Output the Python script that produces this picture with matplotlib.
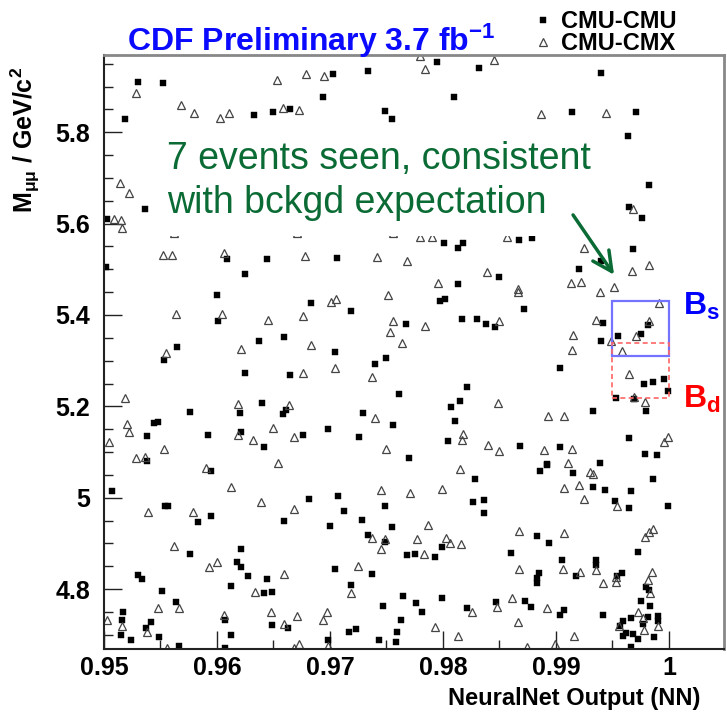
import matplotlib
matplotlib.use("Agg")
import matplotlib.pyplot as plt
from matplotlib.patches import Rectangle
from matplotlib.ticker import MultipleLocator, FuncFormatter

# CMU-CMU events (NN output, dimuon mass in GeV/c^2)
cmu_cmu_nn = [
    0.9530, 0.9552, 0.9633, 0.9650, 0.9665, 0.9519, 0.9536, 0.9503, 0.9795, 0.9832,
    0.9703, 0.9734, 0.9694, 0.9810, 0.9749, 0.9755, 0.9801, 0.9818, 0.9940, 0.9914,
    0.9971, 0.9964, 0.9982, 0.9965, 0.9976, 0.9867, 0.9879, 0.9609, 0.9644, 0.9502,
    0.9625, 0.9600, 0.9601, 0.9637, 0.9659, 0.9565, 0.9553, 0.9625, 0.9665, 0.9640,
    0.9661, 0.9658, 0.9576, 0.9620, 0.9544, 0.9548, 0.9538, 0.9592, 0.9621, 0.9642,
    0.9538, 0.9813, 0.9706, 0.9850, 0.9813, 0.9683, 0.9719, 0.9797, 0.9802, 0.9767,
    0.9817, 0.9830, 0.9838, 0.9846, 0.9704, 0.9750, 0.9740, 0.9761, 0.9821, 0.9815,
    0.9807, 0.9729, 0.9756, 0.9811, 0.9676, 0.9698, 0.9726, 0.9804, 0.9770, 0.9968,
    0.9940, 0.9920, 0.9872, 0.9942, 0.9981, 0.9940, 0.9955, 0.9975, 0.9904, 0.9978,
    0.9986, 0.9996, 0.9999, 0.9953, 0.9969, 0.9980, 0.9933, 0.9965, 0.9868, 0.9904,
    0.9979, 0.9989, 0.9892, 0.9939, 0.9595, 0.9507, 0.9554, 0.9557, 0.9583, 0.9595,
    0.9659, 0.9576, 0.9621, 0.9618, 0.9621, 0.9627, 0.9530, 0.9534, 0.9644, 0.9612,
    0.9642, 0.9649, 0.9551, 0.9564, 0.9517, 0.9516, 0.9515, 0.9524, 0.9542, 0.9537,
    0.9549, 0.9566, 0.9607, 0.9612, 0.9607, 0.9649, 0.9663, 0.9828, 0.9681, 0.9707,
    0.9712, 0.9749, 0.9827, 0.9836, 0.9836, 0.9700, 0.9728, 0.9755, 0.9734, 0.9749,
    0.9799, 0.9768, 0.9775, 0.9793, 0.9704, 0.9737, 0.9719, 0.9765, 0.9747, 0.9776,
    0.9781, 0.9799, 0.9821, 0.9847, 0.9763, 0.9759, 0.9717, 0.9723, 0.9698, 0.9743,
    0.9758, 0.9886, 0.9892, 0.9915, 0.9986, 0.9933, 0.9943, 0.9966, 0.9952, 0.9965,
    0.9999, 0.9883, 0.9894, 0.9860, 0.9973, 0.9905, 0.9935, 0.9935, 0.9918, 0.9885,
    0.9883, 0.9883, 0.9954, 0.9958, 0.9980, 0.9982, 0.9873, 0.9878, 0.9907, 0.9904,
    0.9942, 0.9975, 0.9983, 0.9966, 0.9959, 0.9957, 0.9981, 0.9990, 0.9990, 0.9977,
    0.9962, 0.9959, 0.9968, 0.9973, 0.9987, 0.9966,
]
cmu_cmu_mass = [
    5.910, 5.908, 5.837, 5.845, 5.850, 5.828, 5.632, 5.609, 5.953, 5.940,
    5.928, 5.933, 5.876, 5.877, 5.847, 5.828, 5.558, 5.557, 5.930, 5.844,
    5.844, 5.791, 5.684, 5.636, 5.612, 5.564, 5.568, 5.523, 5.522, 5.506,
    5.489, 5.444, 5.387, 5.344, 5.352, 5.331, 5.301, 5.274, 5.269, 5.207,
    5.193, 5.183, 5.188, 5.185, 5.164, 5.165, 5.136, 5.138, 5.143, 5.111,
    5.080, 5.546, 5.524, 5.484, 5.467, 5.427, 5.409, 5.431, 5.435, 5.381,
    5.392, 5.391, 5.380, 5.373, 5.320, 5.306, 5.293, 5.227, 5.242, 5.211,
    5.199, 5.186, 5.160, 5.167, 5.137, 5.150, 5.133, 5.125, 5.088, 5.545,
    5.519, 5.500, 5.413, 5.382, 5.377, 5.344, 5.353, 5.358, 5.283, 5.250,
    5.253, 5.260, 5.233, 5.219, 5.216, 5.189, 5.189, 5.131, 5.113, 5.111,
    5.095, 5.093, 5.073, 5.075, 5.058, 5.015, 4.983, 4.983, 4.948, 4.959,
    4.949, 4.878, 4.888, 4.860, 4.849, 4.828, 4.831, 4.822, 4.822, 4.806,
    4.791, 4.793, 4.796, 4.771, 4.749, 4.732, 4.700, 4.689, 4.728, 4.714,
    4.696, 4.675, 4.732, 4.699, 4.672, 4.721, 4.716, 5.040, 4.997, 5.004,
    4.972, 4.981, 4.991, 4.995, 4.967, 4.938, 4.951, 4.935, 4.918, 4.903,
    4.892, 4.874, 4.878, 4.871, 4.844, 4.833, 4.809, 4.785, 4.764, 4.769,
    4.750, 4.780, 4.759, 4.771, 4.732, 4.706, 4.707, 4.712, 4.689, 4.689,
    4.685, 5.058, 5.071, 5.055, 5.042, 5.023, 5.018, 5.015, 4.993, 4.977,
    4.982, 4.917, 4.902, 4.880, 4.882, 4.864, 4.863, 4.852, 4.828, 4.835,
    4.824, 4.813, 4.829, 4.836, 4.804, 4.798, 4.775, 4.761, 4.755, 4.743,
    4.744, 4.774, 4.763, 4.736, 4.731, 4.720, 4.740, 4.742, 4.731, 4.724,
    4.704, 4.697, 4.702, 4.691, 4.696, 4.673,
]

# CMU-CMX events
cmu_cmx_nn = [
    0.9653, 0.9528, 0.9568, 0.9580, 0.9603, 0.9611, 0.9658, 0.9673, 0.9514, 0.9522,
    0.9509, 0.9515, 0.9516, 0.9562, 0.9671, 0.9780, 0.9784, 0.9845, 0.9679, 0.9695,
    0.9756, 0.9780, 0.9790, 0.9887, 0.9944, 0.9968, 0.9857, 0.9552, 0.9560, 0.9606,
    0.9564, 0.9604, 0.9645, 0.9621, 0.9555, 0.9519, 0.9619, 0.9664, 0.9520, 0.9522,
    0.9619, 0.9504, 0.9632, 0.9650, 0.9668, 0.9553, 0.9528, 0.9536, 0.9654, 0.9678,
    0.9742, 0.9768, 0.9839, 0.9796, 0.9751, 0.9701, 0.9705, 0.9676, 0.9756, 0.9784,
    0.9753, 0.9850, 0.9683, 0.9764, 0.9676, 0.9704, 0.9737, 0.9849, 0.9740, 0.9818,
    0.9817, 0.9840, 0.9750, 0.9850, 0.9925, 0.9967, 0.9982, 0.9913, 0.9922, 0.9866,
    0.9866, 0.9939, 0.9951, 0.9991, 0.9935, 0.9982, 0.9915, 0.9949, 0.9971, 0.9958,
    0.9914, 0.9965, 0.9969, 0.9979, 0.9893, 0.9907, 0.9996, 0.9999, 0.9889, 0.9914,
    0.9911, 0.9590, 0.9612, 0.9639, 0.9668, 0.9539, 0.9579, 0.9562, 0.9593, 0.9600,
    0.9659, 0.9634, 0.9548, 0.9566, 0.9503, 0.9516, 0.9538, 0.9556, 0.9606, 0.9648,
    0.9659, 0.9671, 0.9668, 0.9673, 0.9815, 0.9745, 0.9771, 0.9799, 0.9787, 0.9737,
    0.9749, 0.9745, 0.9777, 0.9803, 0.9806, 0.9816, 0.9783, 0.9725, 0.9719, 0.9826,
    0.9848, 0.9697, 0.9694, 0.9793, 0.9813, 0.9698, 0.9930, 0.9933, 0.9907, 0.9920,
    0.9925, 0.9954, 0.9867, 0.9907, 0.9986, 0.9982, 0.9979, 0.9867, 0.9906, 0.9935,
    0.9921, 0.9942, 0.9953, 0.9953, 0.9985, 0.9981, 0.9983, 0.9861, 0.9892, 0.9866,
    0.9973, 0.9977, 0.9956, 0.9990, 0.9978, 0.9916, 0.9874, 0.9899,
]
cmu_cmx_mass = [
    5.915, 5.885, 5.859, 5.841, 5.831, 5.843, 5.854, 5.849, 5.689, 5.667,
    5.609, 5.608, 5.590, 5.579, 5.579, 5.966, 5.939, 5.959, 5.928, 5.924,
    5.580, 5.571, 5.571, 5.839, 5.841, 5.633, 5.571, 5.531, 5.531, 5.535,
    5.403, 5.403, 5.390, 5.325, 5.317, 5.219, 5.206, 5.202, 5.162, 5.143,
    5.137, 5.122, 5.126, 5.152, 5.134, 5.107, 5.088, 5.090, 5.077, 5.529,
    5.526, 5.519, 5.495, 5.470, 5.444, 5.429, 5.435, 5.398, 5.387, 5.375,
    5.362, 5.386, 5.334, 5.338, 5.272, 5.283, 5.264, 5.208, 5.174, 5.139,
    5.126, 5.115, 5.106, 5.102, 5.546, 5.496, 5.510, 5.470, 5.473, 5.457,
    5.451, 5.451, 5.462, 5.427, 5.388, 5.387, 5.357, 5.344, 5.353, 5.322,
    5.324, 5.271, 5.221, 5.209, 5.180, 5.180, 5.122, 5.133, 5.104, 5.106,
    5.077, 5.066, 5.023, 4.991, 4.976, 4.969, 4.969, 4.895, 4.849, 4.860,
    4.833, 4.794, 4.758, 4.758, 4.732, 4.719, 4.707, 4.671, 4.743, 4.749,
    4.724, 4.742, 4.672, 4.680, 5.064, 5.017, 5.011, 5.020, 4.940, 4.912,
    4.909, 4.887, 4.909, 4.913, 4.900, 4.898, 4.878, 4.850, 4.791, 4.749,
    4.762, 4.749, 4.732, 4.718, 4.697, 4.676, 5.056, 5.053, 5.022, 5.028,
    4.998, 4.981, 4.927, 4.923, 4.931, 4.926, 4.915, 4.845, 4.845, 4.842,
    4.838, 4.813, 4.826, 4.816, 4.838, 4.820, 4.791, 4.780, 4.759, 4.729,
    4.749, 4.737, 4.720, 4.720, 4.711, 4.698, 4.674, 4.680,
]

# signal windows: NN > 0.995, Bs and Bd mass windows
nn_cut = 0.995
bs_window = (5.310, 5.430)
bd_window = (5.219, 5.339)
arrow_from = (0.99151, 5.619)
arrow_to = (0.99514, 5.488)

GREEN = "#0b6b35"

plt.rcParams["font.family"] = ["Liberation Sans", "DejaVu Sans"]
plt.rcParams["font.weight"] = "bold"
plt.rcParams["mathtext.fontset"] = "custom"
for k in ("rm", "it", "bf", "sf"):
    plt.rcParams[f"mathtext.{k}"] = "Liberation Sans:bold"

fig = plt.figure(figsize=(7.27, 7.14), dpi=100)
ax = fig.add_axes([104 / 727, 65 / 714, 620 / 727, 594 / 714])

h1, = ax.plot(cmu_cmu_nn, cmu_cmu_mass, ls="none", marker="s", ms=4.5,
              mfc="black", mec="black", mew=0.3, label="CMU-CMU", zorder=2)
h2, = ax.plot(cmu_cmx_nn, cmu_cmx_mass, ls="none", marker="^", ms=5.4,
              mfc="none", mec="#444444", mew=0.9, label="CMU-CMX", zorder=2)

ax.add_patch(Rectangle((nn_cut, bs_window[0]), 1.0 - nn_cut, bs_window[1] - bs_window[0],
                       fill=False, ec="#7373ff", lw=1.6, zorder=3))
ax.add_patch(Rectangle((nn_cut, bd_window[0]), 1.0 - nn_cut, bd_window[1] - bd_window[0],
                       fill=False, ec="#ff6666", lw=1.2, ls=(0, (3, 2)), zorder=3))

ax.set_xlim(0.95, 1.00487)
ax.set_ylim(4.669, 5.969)
ax.xaxis.set_major_locator(MultipleLocator(0.01))
ax.xaxis.set_minor_locator(MultipleLocator(0.005))
ax.yaxis.set_major_locator(MultipleLocator(0.2))
ax.yaxis.set_minor_locator(MultipleLocator(0.05))
fmt = FuncFormatter(lambda v, _: f"{round(v, 3):g}")
ax.xaxis.set_major_formatter(fmt)
ax.yaxis.set_major_formatter(fmt)
ax.tick_params(which="both", direction="in", top=False, right=False, color="#222222")
ax.tick_params(which="major", length=13, width=1.0, labelsize=18)
ax.tick_params(which="minor", length=6.5, width=1.0)
ax.tick_params(axis="y", which="major", pad=10)
ax.tick_params(axis="x", which="major", pad=5)
for s in ("left", "bottom"):
    ax.spines[s].set_color("#222222")
    ax.spines[s].set_linewidth(1.5)
for s in ("top", "right"):
    ax.spines[s].set_color("#888888")
    ax.spines[s].set_linewidth(2)

# va="baseline" on multi-line text anchors the last line
ax.text(167 / 727, 1 - 213 / 714, "7 events seen, consistent\nwith bckgd expectation",
        transform=fig.transFigure, fontsize=27, fontweight="normal", color=GREEN,
        ha="left", va="baseline", linespacing=1.28, zorder=4,
        bbox=dict(boxstyle="square,pad=0.4", fc="white", ec="none"))
ax.annotate("", xy=arrow_to, xytext=arrow_from, zorder=5,
            arrowprops=dict(arrowstyle="->,head_length=0.7,head_width=0.35",
                            mutation_scale=20, color=GREEN, lw=2.5, shrinkA=0, shrinkB=0))

ax.text(1.0012, 5.400, r"B$_{s}$", color="#0000ff", fontsize=23, ha="left", va="baseline")
ax.text(1.0012, 5.197, r"B$_{d}$", color="#ff0000", fontsize=23, ha="left", va="baseline")

fig.text(127 / 727, 1 - 51 / 714, r"CDF Preliminary 3.7 fb$^{-1}$", color="#0a0aff",
         fontsize=23, ha="left", va="baseline")
fig.text(25 / 727, 1 - 213 / 714, r"M$_{μμ}$ / GeV/c$^{2}$", rotation=90,
         ha="center", va="bottom", fontsize=18)
fig.text(700 / 727, 1 - 699 / 714, "NeuralNet Output (NN)", ha="right", va="center", fontsize=17)

fig.legend(handles=[h1, h2], loc="upper left", bbox_to_anchor=(536 / 727, 1 - 10 / 714),
           frameon=False, fontsize=17, handlelength=0.6, handletextpad=0.45,
           labelspacing=-0.05, borderpad=0, borderaxespad=0)

fig.savefig("out.png", dpi=100)
